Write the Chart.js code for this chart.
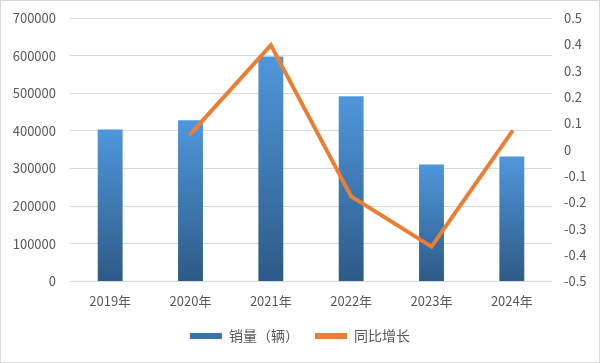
<!DOCTYPE html>
<html>
<head>
<meta charset="utf-8">
<script src="https://cdn.jsdelivr.net/npm/chart.js@4/dist/chart.umd.min.js"></script>
<style>
  html, body { margin: 0; padding: 0; background: #fff; }
  #wrap { width: 600px; height: 363px; }
</style>
</head>
<body>
<div id="wrap"><canvas id="salesChart" width="600" height="363"></canvas></div>
<script>
let years = ['2019年', '2020年', '2021年', '2022年', '2023年', '2024年'];
let sales = [404000, 428000, 598000, 492000, 311000, 332000];
let growth = [null, 0.06, 0.397, -0.177, -0.368, 0.068];
let leftTicks = [0, 700000, 100000];
let rightTicks = [-0.5, 0.5, 0.1];

const fontFamily = '"Noto Sans CJK SC", "Microsoft YaHei", sans-serif';
const textColor = '#595959';

// each bar gets its own light-to-dark fill, top to bottom
function barGradient(context) {
    const chart = context.chart;
    const yScale = chart.scales.y;
    if (!chart.chartArea || !yScale || context.raw == null) {
        return '#3f7fc0';
    }
    const top = yScale.getPixelForValue(context.raw);
    const bottom = yScale.getPixelForValue(0);
    if (!isFinite(top) || !isFinite(bottom) || top === bottom) {
        return '#3f7fc0';
    }
    const g = chart.ctx.createLinearGradient(0, top, 0, bottom);
    g.addColorStop(0, '#4f97dc');
    g.addColorStop(1, '#2d5a86');
    return g;
}

// white background and thin frame round the whole picture
const framePlugin = {
    id: 'frame',
    beforeDraw(chart) {
        const ctx = chart.ctx;
        ctx.save();
        ctx.fillStyle = '#ffffff';
        ctx.fillRect(0, 0, chart.width, chart.height);
        ctx.strokeStyle = '#d9d9d9';
        ctx.lineWidth = 1;
        ctx.strokeRect(0.5, 0.5, chart.width - 1, chart.height - 1);
        ctx.restore();
    }
};

const ctx = document.getElementById('salesChart');
const salesChart = new Chart(ctx, {
    type: 'bar',
    data: {
        labels: years,
        datasets: [
            {
                type: 'line',
                label: '同比增长',
                data: growth,
                yAxisID: 'y1',
                borderColor: '#ed7d31',
                backgroundColor: '#ed7d31',
                borderWidth: 4,
                pointRadius: 0,
                tension: 0,
                borderCapStyle: 'round',
                borderJoinStyle: 'miter',
                order: 0
            },
            {
                label: '销量（辆）',
                data: sales,
                yAxisID: 'y',
                backgroundColor: barGradient,
                barPercentage: 0.31,
                categoryPercentage: 1,
                order: 1
            }
        ]
    },
    options: {
        responsive: false,
        animation: false,
        layout: {
            padding: { left: 0, right: 0, top: 18, bottom: 10 }
        },
        plugins: {
            legend: {
                position: 'bottom',
                reverse: true,
                labels: {
                    color: textColor,
                    font: { family: fontFamily, size: 14 },
                    boxWidth: 32,
                    boxHeight: 6,
                    padding: 16,
                    generateLabels(chart) {
                        const items = Chart.defaults.plugins.legend.labels.generateLabels(chart);
                        items.forEach(function(item) {
                            item.lineWidth = 0;
                            item.fillStyle = item.datasetIndex === 0 ? '#ed7d31' : '#3a74ad';
                        });
                        return items;
                    }
                }
            },
            tooltip: { enabled: false }
        },
        scales: {
            x: {
                grid: { display: false },
                border: { display: false },
                ticks: {
                    color: textColor,
                    font: { family: fontFamily, size: 13 },
                    padding: 4,
                    maxRotation: 0
                }
            },
            y: {
                position: 'left',
                min: leftTicks[0],
                max: leftTicks[1],
                ticks: {
                    stepSize: leftTicks[2],
                    color: textColor,
                    font: { family: fontFamily, size: 13 },
                    padding: 14,
                    callback: function(v) {
                        return String(v);
                    }
                },
                grid: { color: '#d9d9d9', drawTicks: false },
                border: { display: false },
                afterFit(scale) {
                    scale.width = 70;
                    scale.paddingTop = 0;
                    scale.paddingBottom = 0;
                }
            },
            y1: {
                position: 'right',
                min: rightTicks[0],
                max: rightTicks[1],
                ticks: {
                    stepSize: rightTicks[2],
                    color: textColor,
                    font: { family: fontFamily, size: 13 },
                    padding: 12,
                    callback: function(v) {
                        return Math.round(v * 10) / 10;
                    }
                },
                grid: { display: false, drawTicks: false },
                border: { display: false },
                afterFit(scale) {
                    scale.width = 48;
                    scale.paddingTop = 0;
                    scale.paddingBottom = 0;
                }
            }
        }
    },
    plugins: [framePlugin]
});
</script>
</body>
</html>
